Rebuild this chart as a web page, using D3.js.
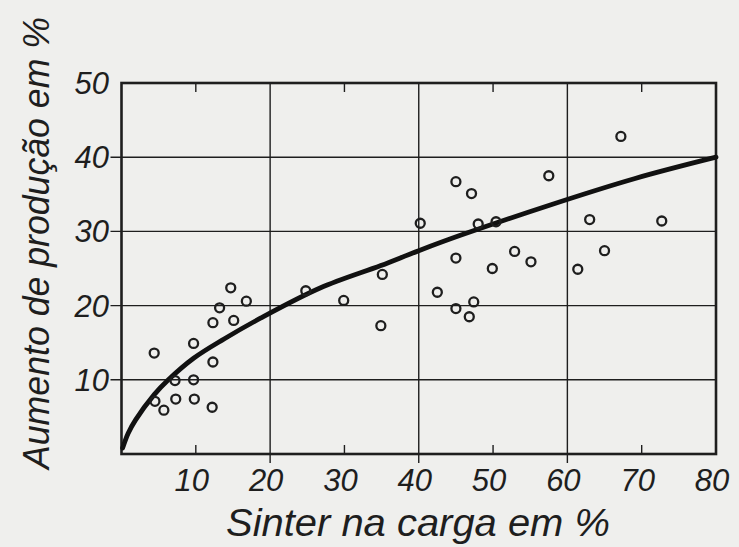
<!DOCTYPE html>
<html>
<head>
<meta charset="utf-8">
<script src="https://cdn.jsdelivr.net/npm/d3@7"></script>
<style>
  html, body { margin: 0; padding: 0; background: #efefed; }
  svg { display: block; }
  text { font-family: 'Liberation Sans', Arial, sans-serif; font-style: italic; fill: #1e1e1e; }
</style>
</head>
<body>
<svg width="739" height="547"></svg>
<script>
// Measured points: sinter in the charge (%) vs production increase (%)
const sinter = [4.4, 4.5, 5.7, 7.2, 7.3, 9.7, 9.7, 9.8, 12.2, 12.3, 12.3, 13.2, 14.7, 15.1, 16.8,
                24.8, 29.9, 34.9, 35.1, 40.2, 42.5, 45.0, 45.0, 45.0, 46.8, 47.1, 47.4, 48.0,
                49.9, 50.4, 52.9, 55.1, 57.5, 61.4, 63.0, 65.0, 67.2, 72.7];
const aumento = [13.6, 7.1, 5.9, 9.9, 7.4, 14.9, 10.0, 7.4, 6.3, 12.4, 17.7, 19.7, 22.4, 18.0, 20.6,
                 22.0, 20.7, 17.3, 24.2, 31.1, 21.8, 36.7, 26.4, 19.6, 18.5, 35.1, 20.5, 31.0,
                 25.0, 31.3, 27.3, 25.9, 37.5, 24.9, 31.6, 27.4, 42.8, 31.4];

// Trend curve
const curveX = [0.15, 0.9, 1.9, 4.4, 6.2, 9.7, 13.8, 18.7, 26.8, 34.9, 40, 45.7, 57.8, 69, 80];
const curveY = [0.8, 2.8, 4.6, 8.0, 9.9, 12.9, 15.5, 18.3, 22.4, 25.4, 27.4, 29.5, 33.6, 37.1, 40.0];

const xLabels = [10, 20, 30, 40, 50, 60, 70, 80];
const yLabels = [10, 20, 30, 40, 50];
const xGrid = [20, 40, 60];
const xMinor = [10, 30, 50, 70];
const yGrid = [10, 20, 30, 40];

const points = sinter.map((s, i) => ({x: s, y: aumento[i]}));
const trend = curveX.map((c, i) => ({x: c, y: curveY[i]}));

const svg = d3.select('svg'),
      ink = '#1e1e1e',
      x = d3.scaleLinear().domain([0, 80]).range([121.5, 716]),
      y = d3.scaleLinear().domain([0, 50]).range([454, 83]);

// grid
svg.append('g').selectAll('line')
  .data(yGrid)
  .enter().append('line')
    .attr('x1', x(0) - 11).attr('x2', x(80))
    .attr('y1', d => y(d)).attr('y2', d => y(d))
    .attr('stroke', ink).attr('stroke-width', 1.4);

svg.append('g').selectAll('line')
  .data(xGrid)
  .enter().append('line')
    .attr('x1', d => x(d)).attr('x2', d => x(d))
    .attr('y1', y(50)).attr('y2', y(0) + 9)
    .attr('stroke', ink).attr('stroke-width', 1.4);

// minor ticks top and bottom, pointing inward
const minor = svg.append('g');
minor.selectAll('.tb')
  .data(xMinor)
  .enter().append('line')
    .attr('x1', d => x(d)).attr('x2', d => x(d))
    .attr('y1', y(0)).attr('y2', y(0) - 9)
    .attr('stroke', ink).attr('stroke-width', 1.4);
minor.selectAll('.tt')
  .data(xMinor)
  .enter().append('line')
    .attr('x1', d => x(d)).attr('x2', d => x(d))
    .attr('y1', y(50)).attr('y2', y(50) + 9)
    .attr('stroke', ink).attr('stroke-width', 1.4);

// frame
svg.append('rect')
  .attr('x', x(0)).attr('y', y(50))
  .attr('width', x(80) - x(0)).attr('height', y(0) - y(50))
  .attr('fill', 'none').attr('stroke', ink).attr('stroke-width', 2.6);

// trend curve
const line = d3.line()
  .x(d => x(d.x))
  .y(d => y(d.y))
  .curve(d3.curveCatmullRom.alpha(0.5));

svg.append('path')
  .datum(trend)
  .attr('fill', 'none')
  .attr('stroke', '#111')
  .attr('stroke-width', 4.8)
  .attr('stroke-linecap', 'round')
  .attr('d', line);

// data points
svg.append('g').selectAll('circle')
  .data(points)
  .enter().append('circle')
    .attr('cx', d => x(d.x))
    .attr('cy', d => y(d.y))
    .attr('r', 4.5)
    .attr('fill', 'none')
    .attr('stroke', ink)
    .attr('stroke-width', 2.3);

// tick labels
svg.append('g').selectAll('text')
  .data(xLabels)
  .enter().append('text')
    .attr('x', d => x(d) - 4)
    .attr('y', 491)
    .attr('text-anchor', 'middle')
    .attr('font-size', 31)
    .text(d => d);

svg.append('g').selectAll('text')
  .data(yLabels)
  .enter().append('text')
    .attr('x', 109)
    .attr('y', d => y(d) + 11)
    .attr('text-anchor', 'end')
    .attr('font-size', 31)
    .text(d => d);

// axis titles
svg.append('text')
  .attr('x', 226).attr('y', 536)
  .attr('font-size', 38)
  .attr('textLength', 384)
  .attr('lengthAdjust', 'spacingAndGlyphs')
  .text('Sinter na carga em %');

svg.append('text')
  .attr('transform', 'translate(49, 469) rotate(-90)')
  .attr('font-size', 37)
  .attr('textLength', 452)
  .attr('lengthAdjust', 'spacingAndGlyphs')
  .text('Aumento de produção em %');
</script>
</body>
</html>
